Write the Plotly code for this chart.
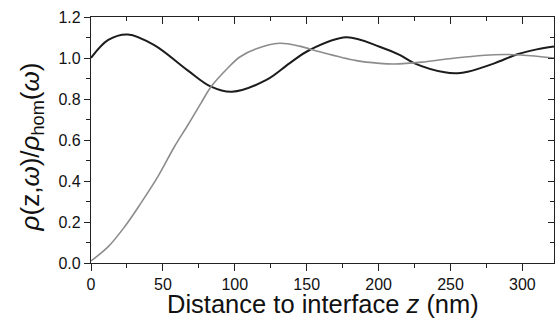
import plotly.graph_objects as go

# Data
z_dark = [0, 12, 25.7, 44, 67, 83.5, 98, 122, 138, 152, 177.5, 200.7, 214.6, 225, 246, 255, 262, 280.5, 296.5, 310, 322]
rho_dark = [1.0, 1.088, 1.115, 1.063, 0.941, 0.86, 0.835, 0.893, 0.974, 1.039, 1.101, 1.055, 1.015, 0.974, 0.93, 0.926, 0.933, 0.974, 1.018, 1.042, 1.056]

z_gray = [0, 12, 23.4, 34.7, 46.5, 58, 67.4, 76.5, 83.5, 95, 103.5, 115, 131, 145, 159, 184.5, 200.7, 211, 230, 246, 262, 280.5, 299, 322]
rho_gray = [0.01, 0.08, 0.177, 0.292, 0.421, 0.567, 0.673, 0.78, 0.86, 0.95, 1.005, 1.045, 1.072, 1.058, 1.03, 0.987, 0.974, 0.971, 0.98, 0.994, 1.006, 1.016, 1.015, 1.0]

x_ticks = [0, 50, 100, 150, 200, 250, 300]
y_ticks = [0.0, 0.2, 0.4, 0.6, 0.8, 1.0, 1.2]

x_title = "Distance to interface <i>z</i> (nm)"
y_title = "<i>ρ</i>(z,<i>ω</i>)/<i>ρ</i><sub>hom</sub>(<i>ω</i>)"

X_RANGE = [0, 322]
Y_RANGE = [0, 1.2]
FONT = "Arial, Liberation Sans, sans-serif"
AX = "#222222"

fig = go.Figure()
fig.add_trace(go.Scatter(x=z_gray, y=rho_gray, mode="lines", line=dict(color="#8c8c8c", width=1.6, shape="spline"),
                         xaxis="x2", yaxis="y2", showlegend=False, hoverinfo="skip"))
fig.add_trace(go.Scatter(x=z_dark, y=rho_dark, mode="lines", line=dict(color="#1c1c1c", width=2.0, shape="spline"),
                         showlegend=False))

common = dict(showline=True, linecolor=AX, linewidth=1.3, showgrid=False, zeroline=False, automargin=False,
              tickwidth=1.3, tickcolor=AX)

fig.update_layout(
    width=555, height=321,
    margin=dict(l=91, r=1, t=17, b=58),
    paper_bgcolor="white", plot_bgcolor="white",
    font=dict(family=FONT, color="#111111"),
    xaxis=dict(range=X_RANGE, tickvals=x_ticks, ticktext=[str(v) for v in x_ticks],
               ticks="outside", ticklen=7,
               minor=dict(dtick=25, tick0=0, ticks="outside", ticklen=4, tickwidth=1.2, tickcolor=AX),
               tickfont=dict(size=16), **common),
    yaxis=dict(range=Y_RANGE, tickvals=y_ticks, ticktext=["%.1f" % v for v in y_ticks],
               ticks="outside", ticklen=6,
               minor=dict(dtick=0.1, tick0=0, ticks="outside", ticklen=4, tickwidth=1.2, tickcolor=AX),
               tickfont=dict(size=16), **common),
    xaxis2=dict(range=X_RANGE, overlaying="x", side="top", anchor="y",
                tickvals=x_ticks, showticklabels=False, ticks="inside", ticklen=7,
                minor=dict(dtick=25, tick0=0, ticks="inside", ticklen=4, tickwidth=1.2, tickcolor=AX),
                **common),
    yaxis2=dict(range=Y_RANGE, overlaying="y", side="right", anchor="x",
                tickvals=y_ticks, showticklabels=False, ticks="inside", ticklen=6,
                minor=dict(dtick=0.1, tick0=0, ticks="inside", ticklen=4, tickwidth=1.2, tickcolor=AX),
                **common),
    annotations=[
        dict(text=x_title, xref="paper", yref="paper", x=0.502, y=0, yshift=-41,
             xanchor="center", yanchor="middle", showarrow=False, font=dict(size=25.5)),
        dict(text=y_title, xref="paper", yref="paper", x=0, y=0.47, xshift=-60, textangle=-90,
             xanchor="center", yanchor="middle", showarrow=False, font=dict(size=26)),
    ],
)

fig.write_html("out.html", config={"displayModeBar": False},
               post_script="document.body.style.margin='0';document.body.style.overflow='hidden';")
